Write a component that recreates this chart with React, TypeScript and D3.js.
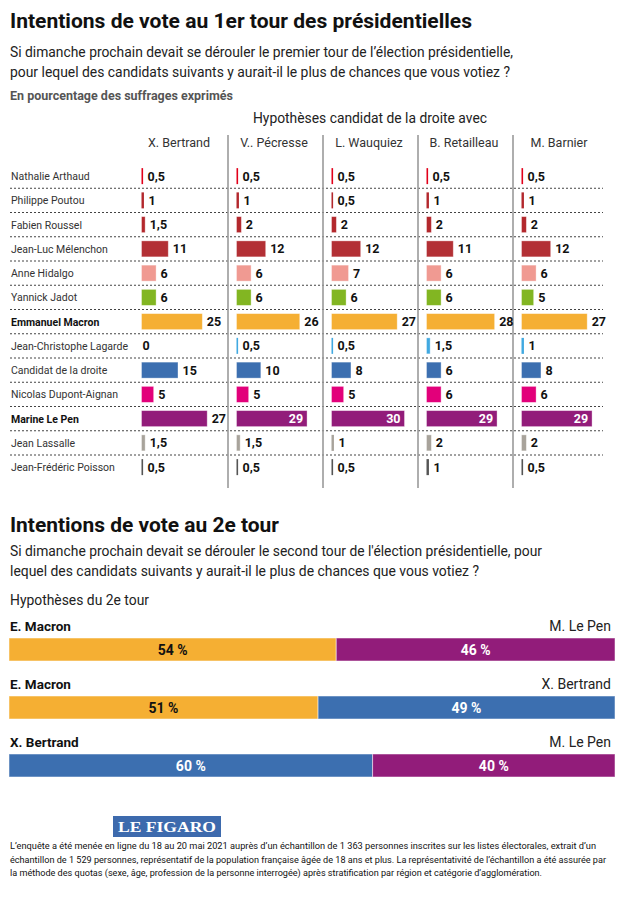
import React from "react";
import * as d3 from "d3";

// ---------- Data: 1er tour ----------
const candidates = [
  "Nathalie Arthaud",
  "Philippe Poutou",
  "Fabien Roussel",
  "Jean-Luc Mélenchon",
  "Anne Hidalgo",
  "Yannick Jadot",
  "Emmanuel Macron",
  "Jean-Christophe Lagarde",
  "Candidat de la droite",
  "Nicolas Dupont-Aignan",
  "Marine Le Pen",
  "Jean Lassalle",
  "Jean-Frédéric Poisson",
];
const boldCandidates = ["Emmanuel Macron", "Marine Le Pen"];
const candidateColors = [
  "#e2001a",
  "#b3282d",
  "#b3282d",
  "#b33035",
  "#f09a92",
  "#82b622",
  "#f5af33",
  "#41a9e1",
  "#3c6fb0",
  "#e2007a",
  "#921c7a",
  "#a8a39b",
  "#555555",
];
const hypotheses = ["X. Bertrand", "V.. Pécresse", "L. Wauquiez", "B. Retailleau", "M. Barnier"];
const valuesBertrand = [0.5, 1, 1.5, 11, 6, 6, 25, 0, 15, 5, 27, 1.5, 0.5];
const valuesPecresse = [0.5, 1, 2, 12, 6, 6, 26, 0.5, 10, 5, 29, 1.5, 0.5];
const valuesWauquiez = [0.5, 0.5, 2, 12, 7, 6, 27, 0.5, 8, 5, 30, 1, 0.5];
const valuesRetailleau = [0.5, 1, 2, 11, 6, 6, 28, 1.5, 6, 6, 29, 2, 1];
const valuesBarnier = [0.5, 1, 2, 12, 6, 5, 27, 1, 8, 6, 29, 2, 0.5];
const hypothesisValues = [valuesBertrand, valuesPecresse, valuesWauquiez, valuesRetailleau, valuesBarnier];

// ---------- Data: 2e tour ----------
const duelLeftNames = ["E. Macron", "E. Macron", "X. Bertrand"];
const duelRightNames = ["M. Le Pen", "X. Bertrand", "M. Le Pen"];
const duelLeftValues = [54, 51, 60];
const duelRightValues = [46, 49, 40];
const duelLeftColors = ["#f5af33", "#f5af33", "#3c6fb0"];
const duelRightColors = ["#921c7a", "#3c6fb0", "#921c7a"];
const duelLeftTextColors = ["#111", "#111", "#fff"];

// ---------- Texts ----------
const title1 = "Intentions de vote au 1er tour des présidentielles";
const subtitle1 = [
  "Si dimanche prochain devait se dérouler le premier tour de l’élection présidentielle,",
  "pour lequel des candidats suivants y aurait-il le plus de chances que vous votiez ?",
];
const unitNote = "En pourcentage des suffrages exprimés";
const hypothesesHeader = "Hypothèses candidat de la droite avec";
const title2 = "Intentions de vote au 2e tour";
const subtitle2 = [
  "Si dimanche prochain devait se dérouler le second tour de l'élection présidentielle, pour",
  "lequel des candidats suivants y aurait-il le plus de chances que vous votiez ?",
];
const duelHeader = "Hypothèses du 2e tour";
const footerLines = [
  "L’enquête a été menée en ligne du 18 au 20 mai 2021 auprès d’un échantillon de 1 363 personnes inscrites sur les listes électorales, extrait d’un",
  "échantillon de 1 529 personnes, représentatif de la population française âgée de 18 ans et plus. La représentativité de l’échantillon a été assurée par",
  "la méthode des quotas (sexe, âge, profession de la personne interrogée) après stratification par région et catégorie d’agglomération.",
];

const FONT = "Roboto, 'Noto Sans', sans-serif";
const fmt = (v: number) => String(v).replace(".", ",");

export default function App() {
  const W = 626;
  const H = 905;

  const rowScale = d3.scaleBand<string>().domain(candidates).range([164, 164 + 24.25 * candidates.length]);
  const colScale = d3.scaleBand<string>().domain(hypotheses).range([133, 608]);
  const xScale = d3.scaleLinear().domain([0, 30]).range([0, 73]);
  const barH = 16;
  const barOffset = 8.5;

  const duelX = d3.scaleLinear().domain([0, 100]).range([9, 615]);
  const duelRows = d3.scaleBand<number>().domain(d3.range(duelLeftNames.length)).range([638, 638 + 58 * 3]);
  const duelBarH = 23;

  return (
    <div style={{ position: "absolute", left: 0, top: 0, background: "#fff" }}>
      <svg width={W} height={H} style={{ display: "block", fontFamily: FONT }}>
        <rect width={W} height={H} fill="#fff" />

        {/* Header section 1 */}
        <text x={10} y={28} fontSize={21} fontWeight={700} fill="#111" textLength={462} lengthAdjust="spacingAndGlyphs">
          {title1}
        </text>
        {subtitle1.map((s, i) => (
          <text key={s} x={10} y={57 + i * 20} fontSize={15} fill="#222" textLength={i === 0 ? 503 : 500} lengthAdjust="spacingAndGlyphs">
            {s}
          </text>
        ))}
        <text x={10} y={100} fontSize={12} fontWeight={700} fill="#555" textLength={223} lengthAdjust="spacingAndGlyphs">
          {unitNote}
        </text>
        <text x={370} y={123} fontSize={15} fill="#222" textAnchor="middle" textLength={234} lengthAdjust="spacingAndGlyphs">
          {hypothesesHeader}
        </text>

        {/* column headers */}
        {hypotheses.map((h) => (
          <text key={h} x={(colScale(h) as number) + 46} y={147} fontSize={12.5} fill="#333" textAnchor="middle">
            {h}
          </text>
        ))}

        {/* dotted row separators */}
        {candidates.slice(0, -1).map((c) => {
          const y = (rowScale(c) as number) + rowScale.bandwidth();
          return <line key={"sep" + c} x1={10} x2={603} y1={y} y2={y} stroke="#444" strokeWidth={1} strokeDasharray="2,2" />;
        })}

        {/* column separators */}
        {hypotheses.slice(1).map((h) => (
          <line key={"vs" + h} x1={colScale(h) as number} x2={colScale(h) as number} y1={135} y2={488} stroke="#9a9a9a" strokeWidth={1.6} />
        ))}

        {/* row labels */}
        {candidates.map((c) => {
          const cy = (rowScale(c) as number) + rowScale.bandwidth() / 2;
          const bold = boldCandidates.includes(c);
          return (
            <text key={"lab" + c} x={11} y={cy + 4} fontSize={10.5} fontWeight={bold ? 700 : 400} fill={bold ? "#111" : "#333"}>
              {c}
            </text>
          );
        })}

        {/* bars */}
        {hypotheses.map((h, hi) => {
          const x0 = (colScale(h) as number) + barOffset;
          return (
            <g key={"col" + h}>
              {candidates.map((c, ci) => {
                const v = hypothesisValues[hi][ci];
                const cy = (rowScale(c) as number) + rowScale.bandwidth() / 2;
                const w = v > 0 ? Math.max(xScale(v), 1.6) : 0;
                const inside = v >= 29;
                return (
                  <g key={c}>
                    {v > 0 && (
                      <rect x={x0} y={cy - barH / 2} width={w} height={barH} fill={candidateColors[ci]} stroke="#fff" strokeOpacity={0.45} strokeWidth={w > 3 ? 0.8 : 0} />
                    )}
                    {inside ? (
                      <text x={x0 + w - 4} y={cy + 4.5} fontSize={12.5} fontWeight={700} fill="#fff" textAnchor="end">
                        {fmt(v)}
                      </text>
                    ) : (
                      <text x={x0 + (v > 0 ? w + 4.5 : 1)} y={cy + 4.5} fontSize={12.5} fontWeight={700} fill="#111">
                        {fmt(v)}
                      </text>
                    )}
                  </g>
                );
              })}
            </g>
          );
        })}

        {/* Section 2 */}
        <text x={10} y={532} fontSize={21} fontWeight={700} fill="#111" textLength={269} lengthAdjust="spacingAndGlyphs">
          {title2}
        </text>
        {subtitle2.map((s, i) => (
          <text key={s} x={10} y={556 + i * 20} fontSize={15} fill="#222" textLength={i === 0 ? 532 : 469} lengthAdjust="spacingAndGlyphs">
            {s}
          </text>
        ))}
        <text x={10} y={605} fontSize={15} fill="#222" textLength={139} lengthAdjust="spacingAndGlyphs">
          {duelHeader}
        </text>

        {duelLeftNames.map((ln, i) => {
          const top = duelRows(i) as number;
          const lv = duelLeftValues[i];
          const rv = duelRightValues[i];
          const xa = duelX(0);
          const xb = duelX(lv);
          const xc = duelX(lv + rv);
          const cy = top + duelBarH / 2;
          return (
            <g key={"duel" + i}>
              <text x={10} y={top - 7} fontSize={13.5} fontWeight={700} fill="#111">
                {ln}
              </text>
              <text x={611} y={top - 7} fontSize={14} fill="#222" textAnchor="end">
                {duelRightNames[i]}
              </text>
              <rect x={xa} y={top} width={xb - xa} height={duelBarH} fill={duelLeftColors[i]} stroke="#fff" strokeOpacity={0.5} strokeWidth={1} />
              <rect x={xb} y={top} width={xc - xb} height={duelBarH} fill={duelRightColors[i]} stroke="#fff" strokeOpacity={0.5} strokeWidth={1} />
              <text x={(xa + xb) / 2} y={cy + 5} fontSize={14} fontWeight={700} fill={duelLeftTextColors[i]} textAnchor="middle">
                {lv + " %"}
              </text>
              <text x={(xb + xc) / 2} y={cy + 5} fontSize={14} fontWeight={700} fill="#fff" textAnchor="middle">
                {rv + " %"}
              </text>
            </g>
          );
        })}

        {/* Footer logo */}
        <rect x={113} y={816} width={108} height={21} fill="#3d6aad" />
        <text x={167} y={832} fontSize={15} fontWeight={700} fill="#fff" textAnchor="middle" fontFamily="'Liberation Serif', 'DejaVu Serif', serif" textLength={98} lengthAdjust="spacingAndGlyphs">
          LE FIGARO
        </text>

        {footerLines.map((l, i) => (
          <text key={"f" + i} x={10} y={849 + i * 13.5} fontSize={9} fill="#111" textLength={i === 0 ? 586 : i === 1 ? 596 : 532} lengthAdjust="spacingAndGlyphs">
            {l}
          </text>
        ))}
      </svg>
    </div>
  );
}
